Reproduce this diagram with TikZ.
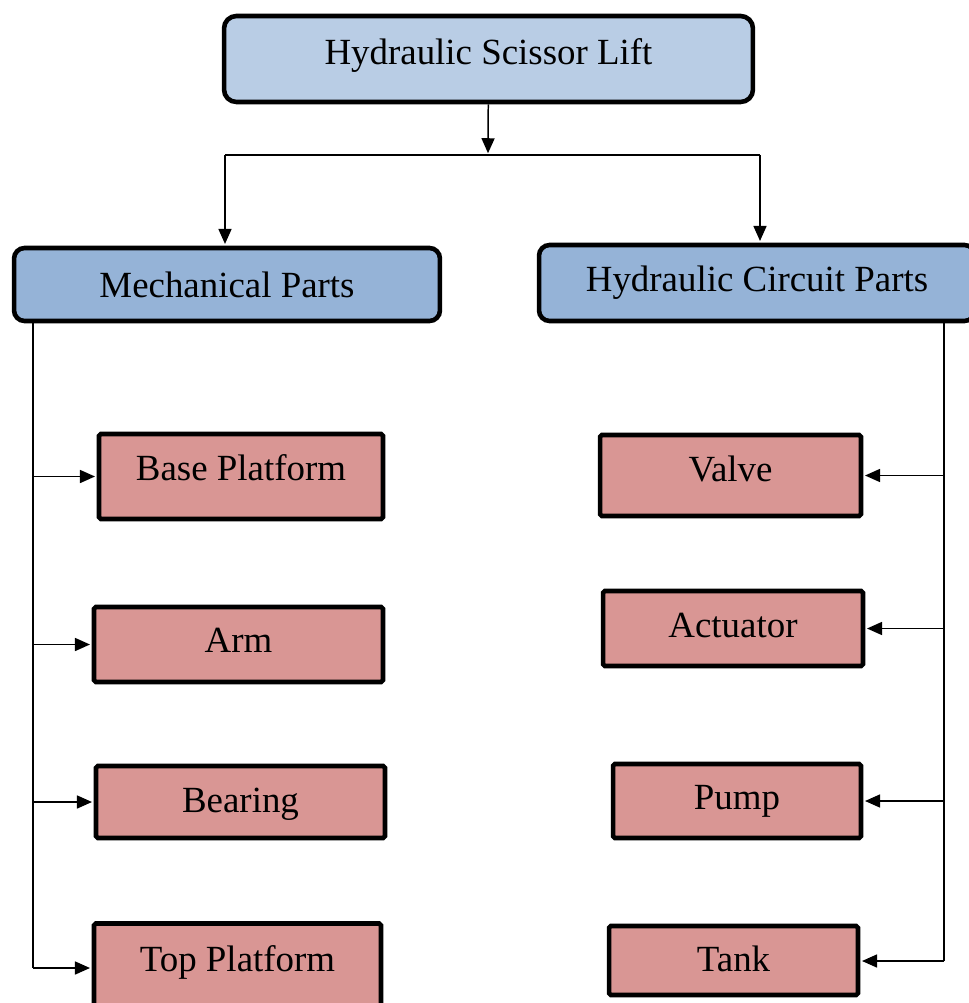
\documentclass[tikz,border=0pt]{standalone}
\usepackage{fontspec}
\setmainfont{Liberation Serif}
\usetikzlibrary{arrows.meta}

\definecolor{topblue}{HTML}{B9CDE5}
\definecolor{midblue}{HTML}{95B3D7}
\definecolor{partred}{HTML}{D99694}

\tikzset{
  group/.style={draw, line width=2.6pt, rounded corners=6pt, fill=midblue,
    font=\fontsize{21}{25}\selectfont},
  head/.style={group, fill=topblue, rounded corners=7pt,
    text height=14pt, text depth=8pt},
  part/.style={draw, line width=2.6pt, rounded corners=1pt, fill=partred,
    font=\fontsize{21}{25}\selectfont, text height=14pt, text depth=4pt},
  conn/.style={line width=0.85pt, -{Triangle[length=0.3cm,width=0.26cm]}, shorten >=1pt},
  trunk/.style={line width=0.85pt}
}

\begin{document}
\begin{tikzpicture}[x=0.02cm,y=-0.02cm]
      \useasboundingbox (0,0) rectangle (968,1003);

      \node[head,  minimum width=10.58cm, minimum height=1.72cm] (lift)     at (488.5,59)   {Hydraulic Scissor Lift};
      \node[group, minimum width=8.52cm,  minimum height=1.46cm] (mech)     at (227,284.5)  {Mechanical Parts};
      \node[group, minimum width=8.72cm,  minimum height=1.52cm] (hyd)      at (757,283)    {Hydraulic Circuit Parts};

      \node[part, minimum width=5.68cm, minimum height=1.70cm, text depth=10pt] (base)     at (241,476.5)  {Base Platform};
      \node[part, minimum width=5.78cm, minimum height=1.50cm, text depth=5pt]  (arm)      at (238.5,644.5){Arm};
      \node[part, minimum width=5.78cm, minimum height=1.44cm, text depth=2pt]  (bearing)  at (240.5,802)  {Bearing};
      \node[part, minimum width=5.74cm, minimum height=1.70cm, text depth=8pt]  (top-plat) at (237.5,966)  {Top Platform};

      \node[part, minimum width=5.22cm, minimum height=1.62cm, text depth=7pt]  (valve)    at (730.5,475.5){Valve};
      \node[part, minimum width=5.20cm, minimum height=1.50cm, text depth=4pt]  (actuator) at (733,628.5)  {Actuator};
      \node[part, minimum width=4.96cm, minimum height=1.48cm, text depth=4pt]  (pump)     at (737,801)    {Pump};
      \node[part, minimum width=4.98cm, minimum height=1.38cm, text depth=1pt]  (tank)     at (733.5,960.5){Tank};

      \coordinate (split)   at (488,155);
      \coordinate (split-l) at (225,155);
      \coordinate (split-r) at (760,155);
      \coordinate (mech-foot) at (33,968);
      \coordinate (hyd-foot)  at (944,961);

      \draw[conn]  (lift)    -- (split);
      \draw[trunk] (split-l) -- (split-r);
      \draw[conn]  (split-l) -- (split-l |- mech.north);
      \draw[conn]  (split-r) -- (split-r |- hyd.north);

      \draw[trunk] (mech.south -| mech-foot) -- (mech-foot);
      \draw[conn]  (mech-foot |- base.west)     -- (base.west);
      \draw[conn]  (mech-foot |- arm.west)      -- (arm.west);
      \draw[conn]  (mech-foot |- bearing.west)  -- (bearing.west);
      \draw[conn]  (mech-foot)                  -- (mech-foot -| top-plat.west);

      \draw[trunk] (hyd.south -| hyd-foot) -- (hyd-foot);
      \draw[conn]  (hyd-foot |- valve.east)     -- (valve.east);
      \draw[conn]  (hyd-foot |- actuator.east)  -- (actuator.east);
      \draw[conn]  (hyd-foot |- pump.east)      -- (pump.east);
      \draw[conn]  (hyd-foot)                   -- (hyd-foot -| tank.east);
    \end{tikzpicture}
\end{document}
